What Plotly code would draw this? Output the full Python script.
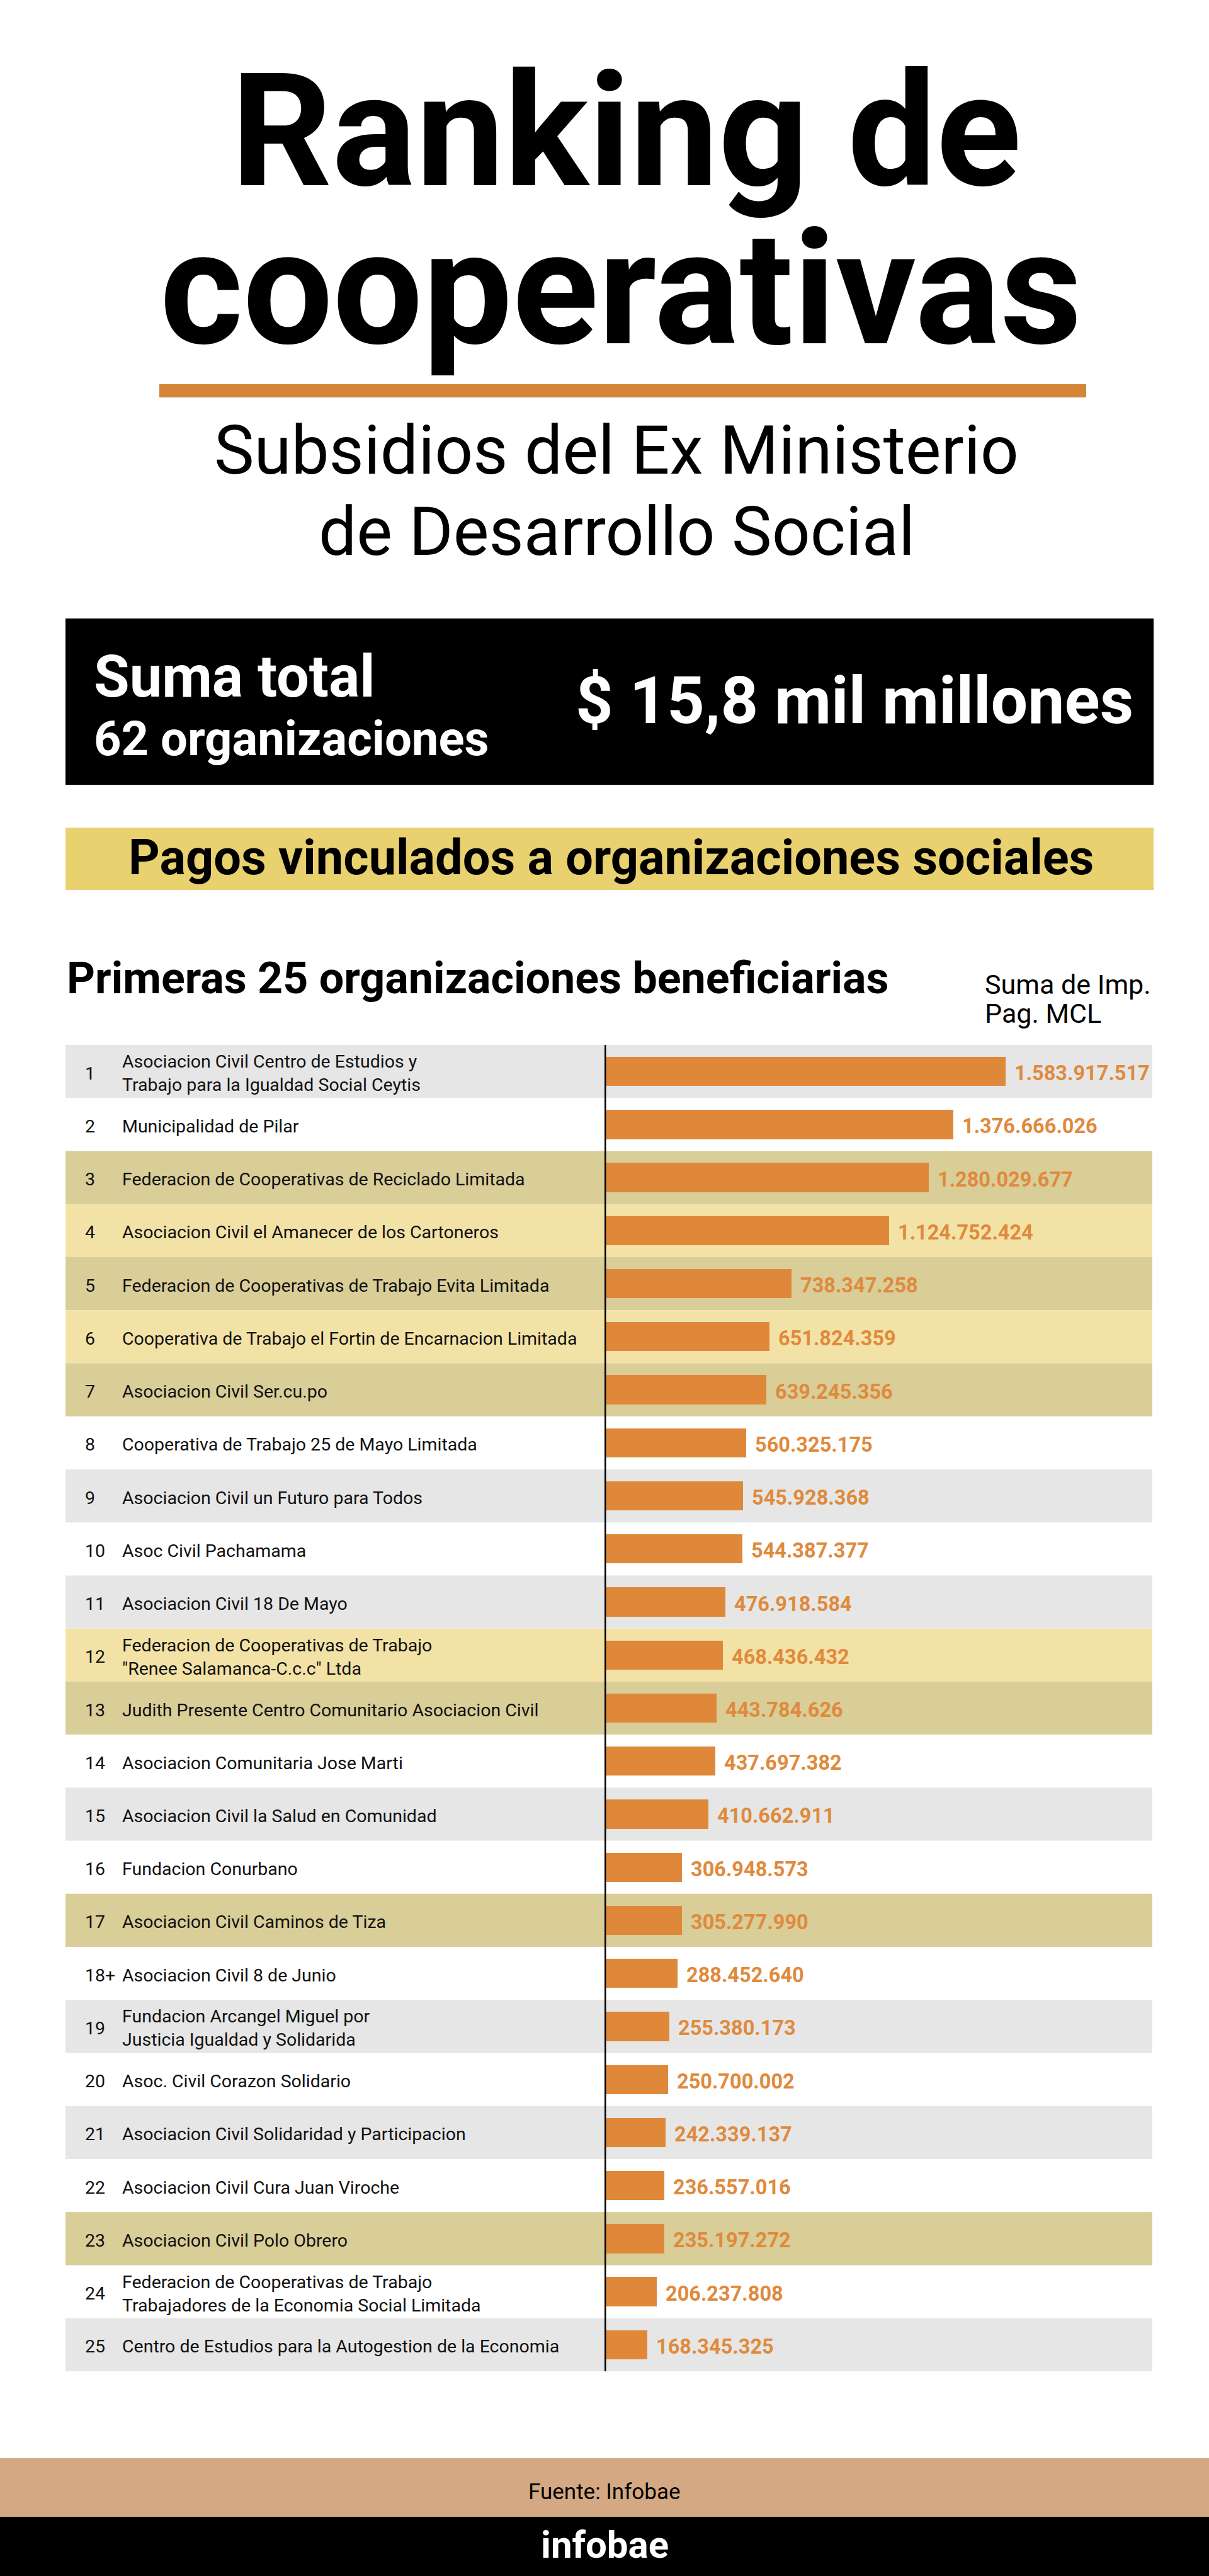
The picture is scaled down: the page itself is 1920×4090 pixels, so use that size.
import plotly.graph_objects as go

W, H = 1920, 4090

ranks = ["1", "2", "3", "4", "5", "6", "7", "8", "9", "10", "11", "12", "13",
         "14", "15", "16", "17", "18+", "19", "20", "21", "22", "23", "24", "25"]
names = [
    "Asociacion Civil Centro de Estudios y<br>Trabajo para la Igualdad Social Ceytis",
    "Municipalidad de Pilar",
    "Federacion de Cooperativas de Reciclado Limitada",
    "Asociacion Civil el Amanecer de los Cartoneros",
    "Federacion de Cooperativas de Trabajo Evita Limitada",
    "Cooperativa de Trabajo el Fortin de Encarnacion Limitada",
    "Asociacion Civil Ser.cu.po",
    "Cooperativa de Trabajo 25 de Mayo Limitada",
    "Asociacion Civil un Futuro para Todos",
    "Asoc Civil Pachamama",
    "Asociacion Civil 18 De Mayo",
    "Federacion de Cooperativas de Trabajo<br>\"Renee Salamanca-C.c.c\" Ltda",
    "Judith Presente Centro Comunitario Asociacion Civil",
    "Asociacion Comunitaria Jose Marti",
    "Asociacion Civil la Salud en Comunidad",
    "Fundacion Conurbano",
    "Asociacion Civil Caminos de Tiza",
    "Asociacion Civil 8 de Junio",
    "Fundacion Arcangel Miguel por<br>Justicia Igualdad y Solidarida",
    "Asoc. Civil Corazon Solidario",
    "Asociacion Civil Solidaridad y Participacion",
    "Asociacion Civil Cura Juan Viroche",
    "Asociacion Civil Polo Obrero",
    "Federacion de Cooperativas de Trabajo<br>Trabajadores de la Economia Social Limitada",
    "Centro de Estudios para la Autogestion de la Economia",
]
values = [1583917517, 1376666026, 1280029677, 1124752424, 738347258, 651824359,
          639245356, 560325175, 545928368, 544387377, 476918584, 468436432,
          443784626, 437697382, 410662911, 306948573, 305277990, 288452640,
          255380173, 250700002, 242339137, 236557016, 235197272, 206237808,
          168345325]
value_labels = ["1.583.917.517", "1.376.666.026", "1.280.029.677", "1.124.752.424",
                "738.347.258", "651.824.359", "639.245.356", "560.325.175",
                "545.928.368", "544.387.377", "476.918.584", "468.436.432",
                "443.784.626", "437.697.382", "410.662.911", "306.948.573",
                "305.277.990", "288.452.640", "255.380.173", "250.700.002",
                "242.339.137", "236.557.016", "235.197.272", "206.237.808",
                "168.345.325"]
# row highlight: "g" gray, "w" white, "k" khaki, "y" light yellow
row_style = ["g", "w", "k", "y", "k", "y", "k", "w", "g", "w", "g", "y", "k",
             "w", "g", "w", "k", "w", "g", "w", "g", "w", "k", "w", "g"]

ROW_COLORS = {"g": "#E6E6E6", "w": "#FFFFFF", "k": "#D9CD98", "y": "#F3E2A6"}
BAR_COLOR = "#E0883A"
VAL_COLOR = "#DF8A3C"
FONT = "Roboto"


def px(x):
    return x / W


def py(y):
    return 1 - y / H


ROW_TOP, ROW_BOT = 1659, 3765
n = len(values)
row_h = (ROW_BOT - ROW_TOP) / n
ypos = list(range(1, n + 1))

fig = go.Figure()
fig.add_trace(go.Bar(
    x=values, y=ypos, orientation="h", width=0.55,
    marker=dict(color=BAR_COLOR, line=dict(width=0)),
    hoverinfo="skip", showlegend=False,
))

shapes = []
annotations = []

# header graphics
shapes.append(dict(type="rect", xref="paper", yref="paper", x0=px(253), x1=px(1725),
                   y0=py(631), y1=py(610), fillcolor="#D48535", line=dict(width=0), layer="below"))
shapes.append(dict(type="rect", xref="paper", yref="paper", x0=px(104), x1=px(1832),
                   y0=py(1246), y1=py(982), fillcolor="#000000", line=dict(width=0), layer="below"))
shapes.append(dict(type="rect", xref="paper", yref="paper", x0=px(104), x1=px(1832),
                   y0=py(1413), y1=py(1314), fillcolor="#E9D16F", line=dict(width=0), layer="below"))
# footer
shapes.append(dict(type="rect", xref="paper", yref="paper", x0=0, x1=1,
                   y0=py(3996), y1=py(3903), fillcolor="#D4A882", line=dict(width=0), layer="below"))
shapes.append(dict(type="rect", xref="paper", yref="paper", x0=0, x1=1,
                   y0=0, y1=py(3996), fillcolor="#000000", line=dict(width=0), layer="below"))

# row backgrounds
for i, st in enumerate(row_style):
    if st == "w":
        continue
    shapes.append(dict(type="rect", xref="paper", yref="y", x0=px(104), x1=px(1830),
                       y0=ypos[i] - 0.5, y1=ypos[i] + 0.5, fillcolor=ROW_COLORS[st],
                       line=dict(width=0), layer="below"))

# vertical axis line
shapes.append(dict(type="line", xref="x", yref="y", x0=0, x1=0,
                   y0=0.5 - 10 / row_h, y1=n + 0.5, line=dict(color="#000000", width=5)))


def txt(text, x, y, size, color="#000000", xanchor="center", bold=False, family=FONT):
    t = f"<b>{text}</b>" if bold else text
    annotations.append(dict(text=t, x=px(x), y=py(y), xref="paper", yref="paper",
                            xanchor=xanchor, yanchor="middle", showarrow=False,
                            font=dict(family=family, size=size, color=color)))


txt("Ranking de", 994, 209, 250, bold=True)
txt("cooperativas", 986, 458, 253, bold=True)
txt("Subsidios del Ex Ministerio", 979, 716, 107)
txt("de Desarrollo Social", 979, 845, 107)
txt("Suma total", 147, 1074, 92, color="#FFFFFF", xanchor="left", bold=True)
txt("62 organizaciones", 147, 1173, 76, color="#FFFFFF", xanchor="left", bold=True)
txt("$ 15,8 mil millones", 1802, 1112, 104, color="#FFFFFF", xanchor="right", bold=True)
txt("Pagos vinculados a organizaciones sociales", 970, 1362, 77.5, bold=True)
txt("Primeras 25 organizaciones beneficiarias", 104, 1553, 70, xanchor="left", bold=True)
txt("Suma de Imp.", 1562, 1563, 43, xanchor="left")
txt("Pag. MCL", 1562, 1609, 43, xanchor="left")
txt("Fuente: Infobae", 960, 3956, 35)
txt("infobae", 960, 4040, 60, color="#FFFFFF", bold=True)

for i in range(n):
    annotations.append(dict(text=ranks[i], x=px(133), y=ypos[i], xref="paper", yref="y",
                            xanchor="left", yanchor="middle", showarrow=False, yshift=-3,
                            font=dict(family=FONT, size=28.5, color="#111111")))
    annotations.append(dict(text=names[i], x=px(192), y=ypos[i], xref="paper", yref="y",
                            xanchor="left", yanchor="middle", align="left", showarrow=False,
                            yshift=-3,
                            font=dict(family=FONT, size=28.5, color="#111111")))
    annotations.append(dict(text=f"<b>{value_labels[i]}</b>", x=values[i], y=ypos[i],
                            xref="x", yref="y", xanchor="left", yanchor="middle", xshift=12,
                            yshift=-3, showarrow=False,
                            font=dict(family=FONT, size=32.5, color=VAL_COLOR)))

px_per_unit = (1597 - 960) / 1583917517
fig.update_layout(
    width=W, height=H, margin=dict(l=0, r=0, t=0, b=0),
    paper_bgcolor="#FFFFFF", plot_bgcolor="rgba(0,0,0,0)",
    xaxis=dict(domain=[px(960), 1], range=[0, (W - 960) / px_per_unit],
               visible=False, fixedrange=True),
    yaxis=dict(domain=[py(ROW_BOT), py(ROW_TOP)], range=[n + 0.5, 0.5],
               visible=False, fixedrange=True),
    shapes=shapes, annotations=annotations, bargap=0,
    font=dict(family=FONT),
)

fig.write_html(
    "out.html",
    config={"displayModeBar": False},
    post_script="document.body.style.margin='0';document.body.style.overflow='hidden';",
)
